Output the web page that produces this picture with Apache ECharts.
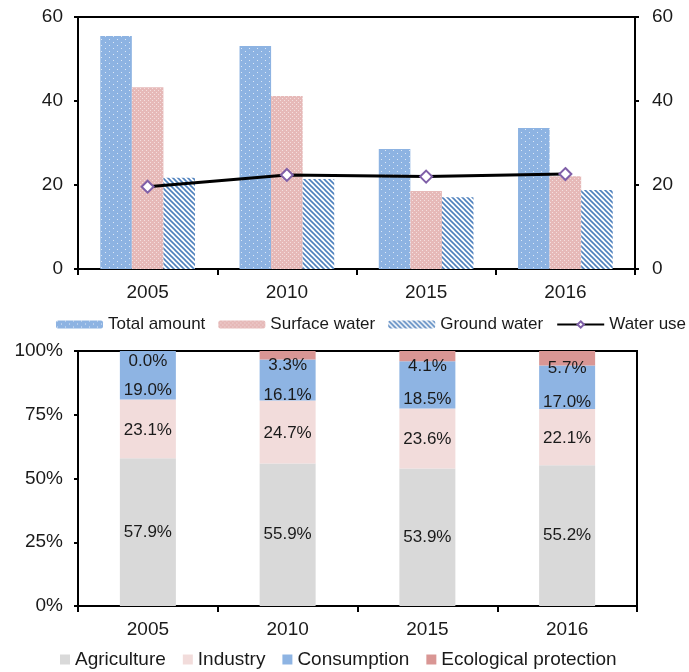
<!DOCTYPE html>
<html><head><meta charset="utf-8">
<script src="https://cdn.jsdelivr.net/npm/echarts@6/dist/echarts.min.js"></script>
<style>html,body{margin:0;padding:0;background:#fff}#c{width:689px;height:672px}</style>
</head><body><div id="c"></div>
<script>
const years = ['2005','2010','2015','2016'];
const totalAmount = [55.5, 53.1, 28.6, 33.6];
const surfaceWater = [43.3, 41.2, 18.6, 22.1];
const groundWater = [21.7, 21.4, 17.1, 18.8];
const waterUse = [19.6, 22.4, 22.0, 22.6];
const topTicks = [0, 20, 40, 60];

const agriculture = [57.9, 55.9, 53.9, 55.2];
const industry = [23.1, 24.7, 23.6, 22.1];
const consumption = [19.0, 16.1, 18.5, 17.0];
const ecological = [0.0, 3.3, 4.1, 5.7];

function pat(w, h, draw) {
  const c = document.createElement('canvas'); c.width = w; c.height = h;
  const g = c.getContext('2d'); draw(g, w, h);
  return { image: c, repeat: 'repeat' };
}
const totalPat = pat(8, 6, (g) => {
  g.fillStyle = '#8db3e2'; g.fillRect(0, 0, 8, 6);
  g.fillStyle = 'rgba(255,255,255,0.7)';
  g.fillRect(1, 0, 1, 1); g.fillRect(5, 3, 1, 1);
});
const surfPat = pat(4, 4, (g) => {
  g.fillStyle = '#e6b9b8'; g.fillRect(0, 0, 4, 4);
  g.fillStyle = 'rgba(255,255,255,0.55)';
  g.fillRect(0, 0, 1, 1); g.fillRect(2, 2, 1, 1);
});
const groundPat = pat(5, 5, (g) => {
  g.fillStyle = '#ffffff'; g.fillRect(0, 0, 5, 5);
  g.strokeStyle = '#4f81bd'; g.lineWidth = 1.6;
  for (let o = -5; o <= 5; o += 5) {
    g.beginPath(); g.moveTo(o - 1, -1); g.lineTo(o + 6, 6); g.stroke();
  }
});

const FONT = 'Liberation Sans, Arial, sans-serif';
const TXT = '#1a1a1a';
const chart = echarts.init(document.getElementById('c'));
const axisLine = { show: true, lineStyle: { color: '#000', width: 2 } };
const pctFmt = (p) => p.value.toFixed(1) + '%';
const lbl = (off) => ({ show: true, position: 'inside', offset: off, formatter: pctFmt, fontFamily: FONT, fontSize: 17, color: TXT });
const xTick = { show: true, length: 6, lineStyle: { color: '#000', width: 2 } };
const yTick = { show: true, length: 4, lineStyle: { color: '#000', width: 2 } };
const axLbl = (m, extra) => Object.assign({ fontFamily: FONT, fontSize: 19, color: TXT, margin: m }, extra || {});

chart.setOption({
  animation: false,
  textStyle: { fontFamily: FONT },
  grid: [
    { left: 78, right: 54, top: 17, height: 252, show: true, borderColor: '#000', borderWidth: 2 },
    { left: 78, right: 52, top: 351, height: 255, show: true, borderColor: '#000', borderWidth: 2 }
  ],
  legend: [
    { left: 51, top: 311, width: 720, itemWidth: 47, itemHeight: 8, itemGap: 13,
      textStyle: { fontFamily: FONT, fontSize: 17, color: TXT },
      data: ['Total amount', 'Surface water', 'Ground water', 'Water use'] },
    { left: 55, top: 645, width: 700, itemWidth: 10, itemHeight: 10, itemGap: 17, icon: 'rect',
      textStyle: { fontFamily: FONT, fontSize: 19, color: TXT },
      data: ['Agriculture', 'Industry', 'Consumption', 'Ecological protection'] }
  ],
  xAxis: [
    { type: 'category', gridIndex: 0, data: years, axisLine, axisTick: xTick, axisLabel: axLbl(14) },
    { type: 'category', gridIndex: 1, data: years, axisLine, axisTick: xTick, axisLabel: axLbl(14) }
  ],
  yAxis: [
    { type: 'value', gridIndex: 0, min: topTicks[0], max: topTicks[topTicks.length - 1], interval: 20,
      axisLine, axisTick: yTick, splitLine: { show: false }, axisLabel: axLbl(15) },
    { type: 'value', gridIndex: 0, position: 'right', min: topTicks[0], max: topTicks[topTicks.length - 1], interval: 20,
      axisLine, axisTick: yTick, splitLine: { show: false }, axisLabel: axLbl(17) },
    { type: 'value', gridIndex: 1, min: 0, max: 100, interval: 25,
      axisLine, axisTick: yTick, splitLine: { show: false }, axisLabel: axLbl(15, { formatter: '{value}%' }) }
  ],
  series: [
    { name: 'Total amount', type: 'bar', xAxisIndex: 0, yAxisIndex: 0, data: totalAmount,
      barGap: '0%', barCategoryGap: '32%', itemStyle: { color: totalPat } },
    { name: 'Surface water', type: 'bar', xAxisIndex: 0, yAxisIndex: 0, data: surfaceWater,
      itemStyle: { color: surfPat } },
    { name: 'Ground water', type: 'bar', xAxisIndex: 0, yAxisIndex: 0, data: groundWater,
      itemStyle: { color: groundPat } },
    { name: 'Water use', type: 'line', xAxisIndex: 0, yAxisIndex: 1, data: waterUse,
      symbol: 'diamond', symbolSize: 12, z: 5,
      lineStyle: { color: '#000', width: 3 },
      itemStyle: { color: '#fff', borderColor: '#7f5fa8', borderWidth: 2 } },
    { name: 'Agriculture', type: 'bar', stack: 's', xAxisIndex: 1, yAxisIndex: 2, data: agriculture,
      barWidth: 56, itemStyle: { color: '#d9d9d9' }, label: lbl([0, 0]) },
    { name: 'Industry', type: 'bar', stack: 's', xAxisIndex: 1, yAxisIndex: 2, data: industry,
      itemStyle: { color: '#f2dcdb' }, label: lbl([0, 1]) },
    { name: 'Consumption', type: 'bar', stack: 's', xAxisIndex: 1, yAxisIndex: 2, data: consumption,
      itemStyle: { color: '#8eb4e3' }, label: lbl([0, 15]) },
    { name: 'Ecological protection', type: 'bar', stack: 's', xAxisIndex: 1, yAxisIndex: 2, data: ecological,
      itemStyle: { color: '#d99694' }, label: lbl([0, 10]) }
  ]
});
</script></body></html>
